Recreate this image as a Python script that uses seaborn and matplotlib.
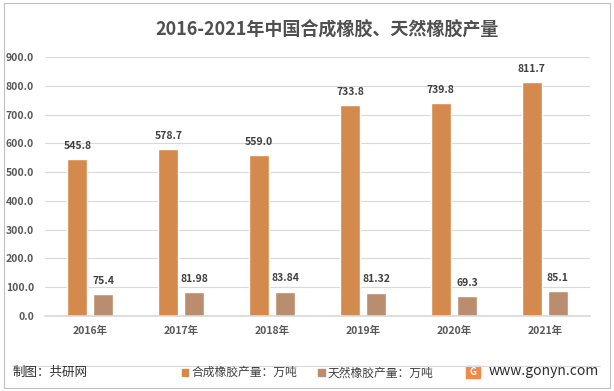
import numpy as np
import pandas as pd
import matplotlib
matplotlib.use('Agg')
import matplotlib.pyplot as plt
import seaborn as sns
from matplotlib.patches import Rectangle
from matplotlib.lines import Line2D

years = ['2016年', '2017年', '2018年', '2019年', '2020年', '2021年']
synthetic = [545.8, 578.7, 559.0, 733.8, 739.8, 811.7]
natural = [75.4, 81.98, 83.84, 81.32, 69.3, 85.1]
synthetic_labels = ['545.8', '578.7', '559.0', '733.8', '739.8', '811.7']
natural_labels = ['75.4', '81.98', '83.84', '81.32', '69.3', '85.1']
series_names = ['合成橡胶产量：万吨', '天然橡胶产量：万吨']
colors = ['#D48A4C', '#BA8D6E']

sns.set_theme(style='white')
plt.rcParams['font.family'] = ['Noto Sans CJK SC', 'DejaVu Sans']

df = pd.DataFrame({
    'year': years * 2,
    'value': synthetic + natural,
    'series': [series_names[0]] * 6 + [series_names[1]] * 6,
})

fig = plt.figure(figsize=(6.14, 3.91), dpi=100)
ax = fig.add_axes([0.0733, 0.192, 0.888, 0.662])

sns.barplot(data=df, x='year', y='value', hue='series', palette=colors,
            width=0.573, gap=0.232, ax=ax, legend=False, saturation=1)

ax.set_ylim(0, 900)
ax.set_yticks(np.arange(0, 901, 100))
ax.set_yticklabels(['%.1f' % v for v in np.arange(0, 901, 100)])
ax.yaxis.grid(True, color='#D9D9D9', lw=0.8)
ax.set_axisbelow(True)
for s in ['top', 'right', 'left']:
    ax.spines[s].set_visible(False)
ax.spines['bottom'].set_color('#D9D9D9')
ax.tick_params(axis='y', length=0, labelsize=7.5, colors='#595959', pad=8)
ax.tick_params(axis='x', length=0, labelsize=7.5, colors='#595959', pad=7)
for t in ax.get_xticklabels() + ax.get_yticklabels():
    t.set_fontweight('bold')
ax.set_xlabel('')
ax.set_ylabel('')

for container, labels in zip(ax.containers, [synthetic_labels, natural_labels]):
    ax.bar_label(container, labels=labels, padding=6, fontsize=7.5,
                 color='#404040', fontweight='bold')

fig.text(0.532, 0.923, '2016-2021年中国合成橡胶、天然橡胶产量', ha='center', va='center',
         fontsize=13, fontweight='bold', color='#505050')

# footer
fig.add_artist(Line2D([0.02, 0.977], [0.064, 0.064], color='#D9D9D9', lw=0.8,
                      transform=fig.transFigure))
fig.text(0.02, 0.047, '制图：共研网', ha='left', va='center', fontsize=9, color='#303030')
lx = [0.296, 0.518]
for x, name, c in zip(lx, series_names, colors):
    fig.add_artist(Rectangle((x, 0.038), 0.011, 0.018, color=c, transform=fig.transFigure))
    fig.text(x + 0.016, 0.047, name, ha='left', va='center', fontsize=8.5, color='#404040')
fig.add_artist(Rectangle((0.759, 0.032), 0.022, 0.032, color='#F08A4B',
                         transform=fig.transFigure))
fig.text(0.77, 0.048, 'G', ha='center', va='center', fontsize=7, color='white', fontweight='bold')
fig.text(0.795, 0.05, 'www.gonyn.com', ha='left', va='center', fontsize=10, color='#303030')

fig.add_artist(Rectangle((0.006, 0.008), 0.988, 0.984, fill=False, ec='#BFBFBF', lw=0.8,
                         transform=fig.transFigure))

fig.savefig('out.png', dpi=100)
